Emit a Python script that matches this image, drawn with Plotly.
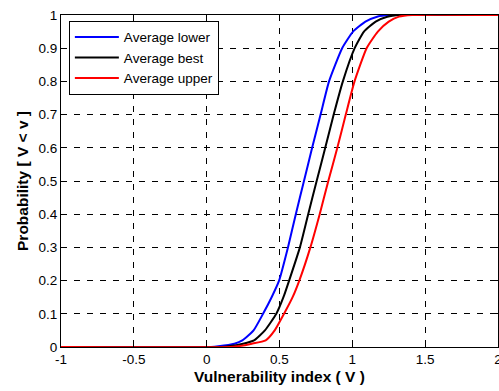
import plotly.graph_objects as go

# (cumulative probability levels and the x where each curve reaches them)
prob_levels = [0, 0, 0.002, 0.01, 0.02, 0.05, 0.1, 0.15, 0.2, 0.3, 0.4, 0.5, 0.6, 0.7, 0.8, 0.9, 0.95, 0.98, 0.995, 1, 1]
x_lower = [-1, 0.03, 0.08, 0.19, 0.245, 0.322, 0.387, 0.446, 0.497, 0.558, 0.612, 0.668, 0.724, 0.782, 0.840, 0.930, 1.005, 1.090, 1.170, 1.260, 2]
x_best = [-1, 0.10, 0.15, 0.25, 0.325, 0.400, 0.478, 0.527, 0.566, 0.640, 0.697, 0.755, 0.814, 0.872, 0.935, 1.016, 1.080, 1.160, 1.240, 1.330, 2]
x_upper = [-1, 0.16, 0.21, 0.31, 0.405, 0.467, 0.531, 0.590, 0.636, 0.712, 0.776, 0.835, 0.897, 0.955, 1.015, 1.098, 1.175, 1.250, 1.320, 1.410, 2]

series_names = ["Average lower", "Average best", "Average upper"]
series_colors = ["#0000ff", "#000000", "#ff0000"]

x_ticks = [-1, -0.5, 0, 0.5, 1, 1.5, 2]
x_ticktext = ["-1", "-0.5", "0", "0.5", "1", "1.5", "2"]
y_ticks = [0, 0.1, 0.2, 0.3, 0.4, 0.5, 0.6, 0.7, 0.8, 0.9, 1]
y_ticktext = ["0", "0.1", "0.2", "0.3", "0.4", "0.5", "0.6", "0.7", "0.8", "0.9", "1"]

FONT = "Liberation Sans, Arial, sans-serif"

fig = go.Figure()
for xs, name, color in zip([x_lower, x_best, x_upper], series_names, series_colors):
    fig.add_trace(go.Scatter(
        x=xs, y=prob_levels, mode="lines", name=name,
        line=dict(color=color, width=2, shape="spline", smoothing=0.5),
    ))

axis_common = dict(
    showline=True, linecolor="black", linewidth=1, mirror="ticks",
    ticks="inside", ticklen=4, tickcolor="black", tickwidth=1,
    showgrid=True, gridcolor="black", gridwidth=1, griddash="6px,7px",
    zeroline=False,
    tickfont=dict(family=FONT, size=13.5, color="black"),
    ticklabeloverflow="allow",
    automargin=False,
)

fig.update_xaxes(
    range=[-1, 2], tickvals=x_ticks, ticktext=x_ticktext,
    title=dict(text="<b>Vulnerability index ( V )</b>", font=dict(family=FONT, size=15.5, color="black"), standoff=4),
    **axis_common,
)
fig.update_yaxes(
    range=[0, 1], tickvals=y_ticks, ticktext=y_ticktext,
    title=dict(text="<b>Probability [ V &lt; v ]</b>", font=dict(family=FONT, size=15.5, color="black"), standoff=6),
    **axis_common,
)

fig.update_layout(
    width=499, height=391,
    margin=dict(l=61, r=1, t=15, b=44),
    paper_bgcolor="white", plot_bgcolor="white",
    font=dict(family=FONT, size=13.5, color="black"),
    showlegend=True,
    legend=dict(
        x=0.018, y=0.983, xanchor="left", yanchor="top",
        bgcolor="white", bordercolor="black", borderwidth=1,
        font=dict(family=FONT, size=13.5, color="black"),
        itemwidth=44,
        tracegroupgap=0,
    ),
)

fig.write_html("out.html")
